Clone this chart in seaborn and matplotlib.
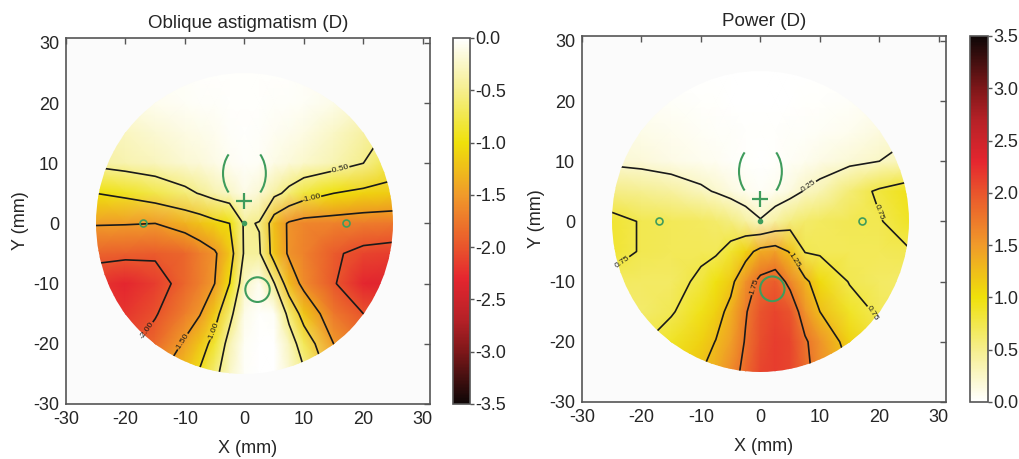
import numpy as np
import matplotlib
matplotlib.use("Agg")
import matplotlib.pyplot as plt
from matplotlib.colors import LinearSegmentedColormap, Normalize
from matplotlib.patches import Circle, Arc
import seaborn as sns

# ---------------- data ----------------
grid_x = [-25, -20, -15, -10, -7.5, -5, -2.5, 0, 2.5, 5, 7.5, 10, 15, 20, 25]
grid_y = [25, 20, 15, 10, 5, 0, -5, -10, -15, -20, -25]

astig_y25 = [-0.08, -0.06, -0.04, -0.03, -0.02, -0.02, -0.02, -0.02, -0.02, -0.02, -0.02, -0.03, -0.05, -0.08, -0.12]
astig_y20 = [-0.15, -0.12, -0.08, -0.05, -0.04, -0.03, -0.02, -0.02, -0.02, -0.03, -0.04, -0.05, -0.10, -0.18, -0.25]
astig_y15 = [-0.35, -0.28, -0.20, -0.13, -0.10, -0.07, -0.04, -0.02, -0.03, -0.06, -0.09, -0.13, -0.25, -0.40, -0.55]
astig_y10 = [-0.42, -0.35, -0.30, -0.20, -0.17, -0.12, -0.06, -0.03, -0.05, -0.12, -0.17, -0.22, -0.33, -0.50, -0.80]
astig_y05 = [-1.00, -0.91, -0.76, -0.59, -0.48, -0.35, -0.25, -0.12, -0.20, -0.40, -0.60, -0.80, -1.00, -1.10, -1.15]
astig_y00 = [-1.47, -1.48, -1.50, -1.33, -1.23, -1.10, -1.00, -0.45, -0.52, -1.25, -1.55, -1.65, -1.68, -1.72, -1.75]
astig_m05 = [-1.90, -1.92, -1.95, -1.87, -1.70, -1.55, -1.20, -0.45, -0.45, -1.20, -1.55, -1.68, -1.95, -2.10, -2.15]
astig_m10 = [-2.20, -2.30, -2.15, -1.87, -1.70, -1.50, -1.00, -0.25, -0.08, -0.48, -1.27, -1.60, -1.97, -2.30, -2.35]
astig_m15 = [-2.20, -2.20, -2.03, -1.70, -1.52, -1.17, -0.62, -0.10, -0.02, -0.05, -0.61, -1.20, -1.75, -2.00, -2.10]
astig_m20 = [-2.10, -2.10, -1.85, -1.45, -1.20, -0.85, -0.35, -0.05, 0.00, 0.00, -0.30, -0.70, -1.50, -1.80, -1.90]
astig_m25 = [-2.00, -1.90, -1.60, -1.20, -0.95, -0.60, -0.25, -0.03, 0.00, 0.00, -0.20, -0.45, -1.20, -1.60, -1.80]

power_y25 = [0.02, 0.02, 0.01, 0.01, 0.01, 0.01, 0.01, 0.01, 0.01, 0.01, 0.01, 0.01, 0.02, 0.03, 0.05]
power_y20 = [0.05, 0.04, 0.03, 0.02, 0.02, 0.01, 0.01, 0.01, 0.01, 0.01, 0.02, 0.02, 0.03, 0.05, 0.08]
power_y15 = [0.12, 0.10, 0.07, 0.05, 0.04, 0.03, 0.02, 0.02, 0.02, 0.03, 0.04, 0.05, 0.08, 0.15, 0.22]
power_y10 = [0.20, 0.17, 0.12, 0.08, 0.06, 0.04, 0.02, 0.01, 0.02, 0.05, 0.08, 0.12, 0.18, 0.25, 0.32]
power_y05 = [0.52, 0.48, 0.42, 0.30, 0.23, 0.15, 0.08, 0.05, 0.08, 0.15, 0.27, 0.34, 0.60, 0.80, 0.95]
power_y00 = [0.85, 0.73, 0.70, 0.68, 0.64, 0.56, 0.42, 0.27, 0.42, 0.56, 0.64, 0.68, 0.72, 0.73, 0.90]
power_m05 = [0.85, 0.73, 0.71, 0.70, 0.71, 0.85, 1.10, 1.38, 1.45, 1.22, 0.73, 0.70, 0.71, 0.71, 0.73]
power_m10 = [0.68, 0.66, 0.66, 0.80, 0.98, 1.15, 1.55, 1.85, 1.95, 1.65, 1.33, 1.05, 0.73, 0.66, 0.64]
power_m15 = [0.60, 0.64, 0.72, 0.95, 1.12, 1.35, 1.72, 2.00, 2.10, 2.00, 1.55, 1.25, 0.90, 0.70, 0.62]
power_m20 = [0.62, 0.72, 0.90, 1.12, 1.26, 1.45, 1.78, 2.05, 2.15, 2.10, 1.80, 1.55, 1.10, 0.80, 0.70]
power_m25 = [0.70, 0.85, 1.00, 1.24, 1.38, 1.60, 1.85, 2.10, 2.15, 2.10, 1.85, 1.60, 1.25, 0.95, 0.80]

astig_levels = [-2.0, -1.5, -1.0, -0.5]
power_levels = [0.25, 0.75, 1.25, 1.75]
astig_cbar_ticks = [0.0, -0.5, -1.0, -1.5, -2.0, -2.5, -3.0, -3.5]
power_cbar_ticks = [0.0, 0.5, 1.0, 1.5, 2.0, 2.5, 3.0, 3.5]
axis_ticks = [-30, -20, -10, 0, 10, 20, 30]

# lens engravings (mm)
lens_radius = 25
cross_xy = (0.0, 3.8)
dot_xy = (0.0, 0.0)
small_circles_x = [-17.0, 17.0]
small_circles_y = [0.0, 0.0]
fit_arc_center = (0.0, 8.3)
fit_arc_radius = 3.6
near_circle_left = (2.2, -11.0)
near_circle_right = (2.0, -11.2)
near_circle_r = 2.05

astig_label_pos = [(16.3, 8.2), (11.3, 4.3), (-5.5, -17.8), (-10.3, -19.7), (-15.9, -18.0)]
power_label_pos = [(8.4, 5.5), (18.7, 1.1), (-22.4, -7.8), (5.3, -6.7), (-1.1, -10.9), (19.3, -15.0)]

# ---------------- style ----------------
sns.set_style("white")
plt.rcParams["font.family"] = ["Liberation Sans", "DejaVu Sans"]
plt.rcParams["axes.unicode_minus"] = False

cm_nodes = [(0.0, "#ffffff"), (0.5 / 3.5, "#f5ee8c"), (1.0 / 3.5, "#efe10a"),
            (1.5 / 3.5, "#f09a2a"), (2.0 / 3.5, "#e9552c"), (2.3 / 3.5, "#e5262f"),
            (2.7 / 3.5, "#b52127"), (3.0 / 3.5, "#7e1719"), (3.3 / 3.5, "#3a0e0e"),
            (1.0, "#0e0707")]
heat = LinearSegmentedColormap.from_list("lensheat", cm_nodes)
heat_r = heat.reversed()

GREEN = "#3f9c5c"
SPINE = "#555555"

fig = plt.figure(figsize=(10.2, 4.59), dpi=100)

def panel(rect, crect, Z, cmap, vmin, vmax, levels, label_pos, ticks, title,
          near_xy):
    ax = fig.add_axes(rect)
    cax = fig.add_axes(crect)
    ax.set_facecolor("#fbfbfb")
    X, Y = np.meshgrid(grid_x, grid_y)
    Z = np.array(Z, dtype=float)
    circ = Circle((0, 0), lens_radius, transform=ax.transData, facecolor="none",
                  edgecolor="none")
    ax.add_patch(circ)
    mesh = ax.pcolormesh(X, Y, Z, shading="gouraud", cmap=cmap,
                         norm=Normalize(vmin=vmin, vmax=vmax), zorder=1)
    mesh.set_clip_path(circ)
    cs = ax.contour(X, Y, Z, levels=levels, colors="#1a1a1a", linewidths=1.2,
                    linestyles="solid", zorder=2)
    cs.set_clip_path(circ)
    ax.clabel(cs, levels=levels, fmt="%.2f", fontsize=6, inline=True,
              inline_spacing=2, manual=label_pos)

    # engravings
    ax.add_patch(Arc(fit_arc_center, 2 * fit_arc_radius, 2.6 * fit_arc_radius,
                     theta1=130, theta2=230, color=GREEN, lw=1.5, zorder=4))
    ax.add_patch(Arc(fit_arc_center, 2 * fit_arc_radius, 2.6 * fit_arc_radius,
                     theta1=-50, theta2=50, color=GREEN, lw=1.5, zorder=4))
    ax.plot([cross_xy[0]], [cross_xy[1]], marker="+", ms=12, mew=1.6,
            color=GREEN, zorder=4)
    ax.plot([dot_xy[0]], [dot_xy[1]], marker="o", ms=3, color=GREEN, zorder=4)
    ax.plot(small_circles_x, small_circles_y, ls="none", marker="o", ms=5,
            mfc="none", mec=GREEN, mew=1.2, zorder=4)
    ax.add_patch(Circle(near_xy, near_circle_r, facecolor="none",
                        edgecolor=GREEN, lw=1.5, zorder=4))

    ax.set_xlim(-30, 31.2)
    ax.set_ylim(-30, 30.8)
    ax.set_xticks(axis_ticks)
    ax.set_yticks(axis_ticks)
    ax.tick_params(direction="in", length=4, width=1, color=SPINE, top=True,
                   right=True, labelsize=13, pad=5)
    for s in ax.spines.values():
        s.set_visible(True)
        s.set_color(SPINE)
        s.set_linewidth(1.2)
    ax.set_xlabel("X (mm)", fontsize=13, labelpad=9)
    ax.set_ylabel("Y (mm)", fontsize=13, labelpad=3)
    ax.set_title(title, fontsize=13.5, pad=7)

    cb = fig.colorbar(mesh, cax=cax, ticks=ticks, format="%.1f")
    cb.outline.set_edgecolor(SPINE)
    cb.outline.set_linewidth(1.2)
    cax.tick_params(direction="out", length=3, width=1, color=SPINE,
                    labelsize=13, pad=1)
    return ax

panel([66 / 1020, 55 / 459, 364 / 1020, 366 / 459],
      [453 / 1020, 55 / 459, 17 / 1020, 366 / 459],
      [astig_y25, astig_y20, astig_y15, astig_y10, astig_y05, astig_y00,
       astig_m05, astig_m10, astig_m15, astig_m20, astig_m25],
      heat_r, -3.5, 0.0, astig_levels, astig_label_pos, astig_cbar_ticks,
      "Oblique astigmatism (D)", near_circle_left)

panel([582 / 1020, 57 / 459, 364 / 1020, 366 / 459],
      [970 / 1020, 57 / 459, 18 / 1020, 366 / 459],
      [power_y25, power_y20, power_y15, power_y10, power_y05, power_y00,
       power_m05, power_m10, power_m15, power_m20, power_m25],
      heat, 0.0, 3.5, power_levels, power_label_pos, power_cbar_ticks,
      "Power (D)", near_circle_right)

fig.savefig("out.png", dpi=100)
